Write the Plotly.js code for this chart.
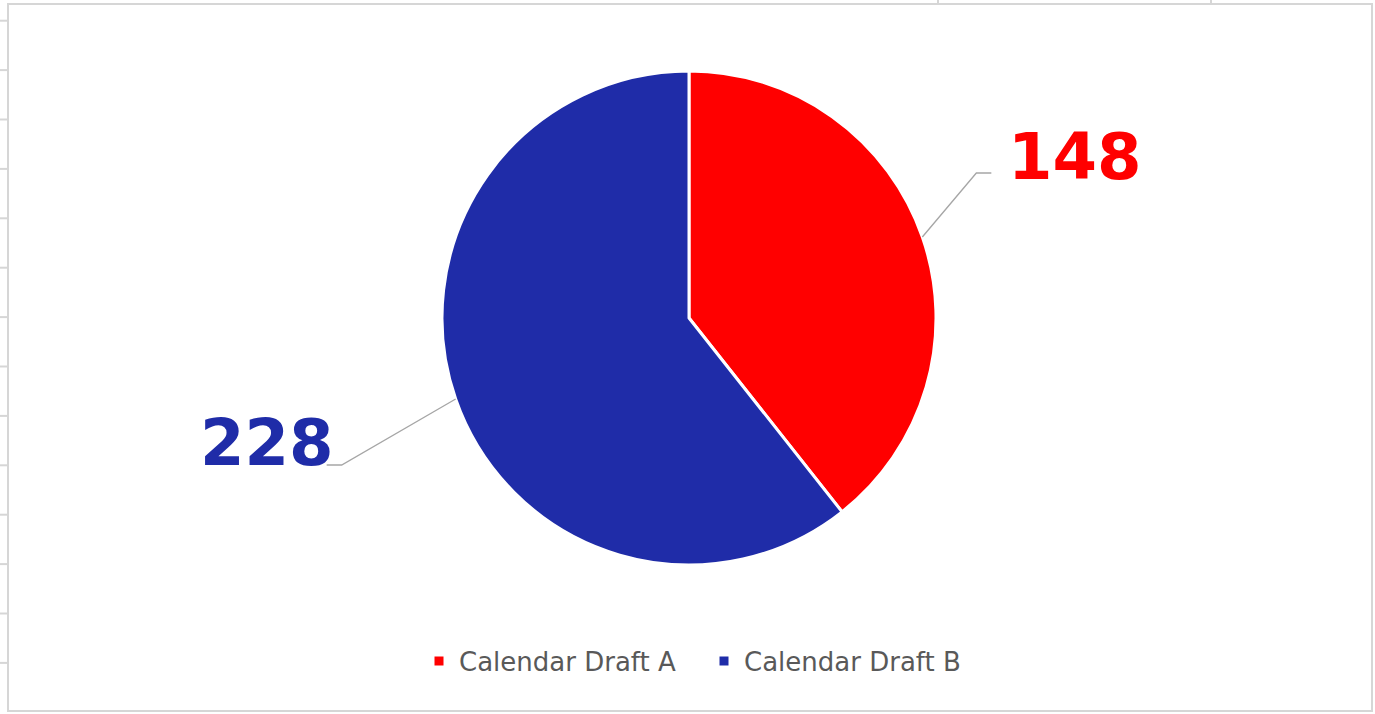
<!DOCTYPE html>
<html>
<head>
<meta charset="utf-8">
<script src="https://cdn.plot.ly/plotly-3.0.1.min.js"></script>
<style>
  html, body { margin: 0; padding: 0; background: #ffffff; }
  #chart { width: 1375px; height: 714px; }
</style>
</head>
<body>
<div id="chart"></div>
<script>
// ---- data ----
const labels = ['Calendar Draft A', 'Calendar Draft B'];
const values = [148, 228];
const colors = ['#FF0000', '#1F2CA8'];

// ---- layout constants (pixels) ----
const W = 1375, H = 714;
const CX = 689, CY = 318, R = 247;
// leader line: offset of elbow from slice edge point, then horizontal run
const leaderElbow = [[54, -64], [-114, 66]];
const leaderRun = [15, -15];
// label centre offset from end of leader
const labelOffset = [[84, -15.5], [-59.5, -22.5]];

const px = x => x / W;
const py = y => 1 - y / H;

const total = values.reduce((a, b) => a + b, 0);
const shapes = [];
const annotations = [];

// spreadsheet frame decorations
shapes.push({type: 'rect', xref: 'paper', yref: 'paper', x0: px(8), x1: px(1372), y0: py(711), y1: py(4),
  line: {color: '#d6d6d6', width: 2}, fillcolor: 'rgba(0,0,0,0)', layer: 'below'});
for (let y = 20.7; y < 711; y += 49.4) {
  shapes.push({type: 'line', xref: 'paper', yref: 'paper', x0: px(0), x1: px(7), y0: py(y), y1: py(y),
    line: {color: '#d6d6d6', width: 2}, layer: 'below'});
}
[938, 1211].forEach(x => {
  shapes.push({type: 'line', xref: 'paper', yref: 'paper', x0: px(x), x1: px(x), y0: py(0), y1: py(4),
    line: {color: '#d6d6d6', width: 2}, layer: 'below'});
});

// labels with leader lines, derived from the slice angles
let cum = 0;
values.forEach((v, i) => {
  const theta = 2 * Math.PI * (cum + v / 2) / total; // clockwise from 12 o'clock
  cum += v;
  const ex = CX + R * Math.sin(theta);
  const ey = CY - R * Math.cos(theta);
  const bx = ex + leaderElbow[i][0];
  const by = ey + leaderElbow[i][1];
  const fx = bx + leaderRun[i];
  shapes.push({type: 'path', xref: 'paper', yref: 'paper',
    path: `M ${px(ex)} ${py(ey)} L ${px(bx)} ${py(by)} L ${px(fx)} ${py(by)}`,
    line: {color: '#a6a6a6', width: 1.3}});
  annotations.push({xref: 'paper', yref: 'paper', x: px(fx + labelOffset[i][0]), y: py(by + labelOffset[i][1]),
    xanchor: 'center', yanchor: 'middle', showarrow: false, text: String(v),
    font: {family: 'DejaVu Sans', size: 64, color: colors[i], weight: 'bold'}});
});

const trace = {
  type: 'pie',
  labels: labels,
  values: values,
  sort: false,
  direction: 'clockwise',
  rotation: 0,
  textinfo: 'none',
  hoverinfo: 'label+value',
  marker: {colors: colors, line: {color: '#ffffff', width: 3}},
  domain: {x: [(CX - R) / W, (CX + R) / W], y: [py(CY + R), py(CY - R)]}
};

const layout = {
  width: W, height: H,
  margin: {l: 0, r: 0, t: 0, b: 0},
  paper_bgcolor: '#ffffff',
  showlegend: true,
  legend: {orientation: 'h', x: 704 / W, xanchor: 'center', y: py(661), yanchor: 'middle',
    font: {family: 'DejaVu Sans', size: 26, color: '#595959'}, entrywidth: 240},
  shapes: shapes,
  annotations: annotations
};

Plotly.newPlot('chart', [trace], layout, {displayModeBar: false, staticPlot: true});
</script>
</body>
</html>
